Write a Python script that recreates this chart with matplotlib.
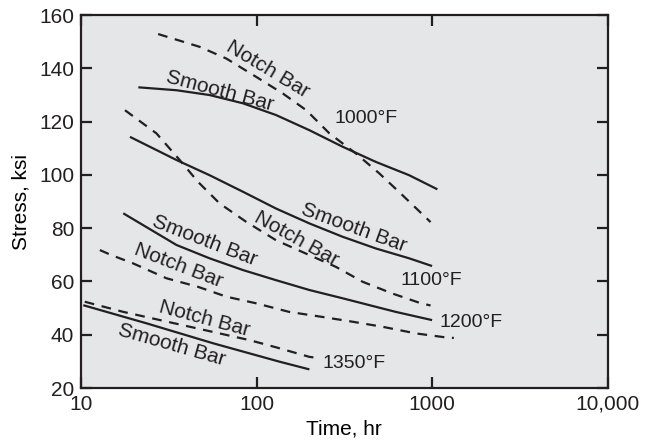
import numpy as np
import matplotlib
matplotlib.use('Agg')
import matplotlib.pyplot as plt

plt.rcParams['font.family'] = ['Liberation Sans', 'DejaVu Sans']
plt.rcParams['lines.scale_dashes'] = False

# Smooth bar (solid) and notch bar (dashed) rupture curves
smooth_1000_x = [21.2, 35, 54, 83.6, 129, 200, 309, 478, 740, 1072]
smooth_1000_y = [132.9, 131.8, 130, 126.9, 122.5, 116.8, 110.6, 104.9, 99.9, 94.6]
notch_1000_x = [27.5, 47.4, 67.3, 99.6, 141, 192, 260, 369, 500, 678, 980]
notch_1000_y = [152.9, 148.1, 143.7, 136.8, 130.6, 124.3, 115.6, 108, 100.6, 92.4, 82.3]

smooth_1100_x = [19, 35, 54, 83.6, 129, 200, 309, 478, 740, 1000]
smooth_1100_y = [114.3, 105.6, 99.9, 93.7, 87.4, 81.8, 76.8, 72.4, 68.7, 65.8]
notch_1100_x = [17.8, 26.9, 36.5, 46.4, 61.6, 87.3, 129, 200, 283, 402, 593, 865, 980]
notch_1100_y = [124.3, 115.6, 105.6, 97.4, 89.3, 82.4, 75.5, 69.9, 65.5, 59.9, 55.5, 51.8, 51]

smooth_1200_x = [17.4, 35, 54, 83.6, 129, 200, 309, 478, 620, 1000]
smooth_1200_y = [85.6, 73.7, 68.7, 64.3, 60.5, 56.8, 53.7, 50.5, 48.6, 45.5]
notch_1200_x = [12.8, 14.9, 19.8, 30.7, 46.4, 67.3, 99.6, 153, 237, 352, 522, 810, 1200, 1330]
notch_1200_y = [71.8, 69.9, 66.8, 61.2, 58, 54.3, 51.8, 48.6, 46.7, 44.9, 43, 40.5, 39, 38.8]

smooth_1350_x = [10.3, 23.6, 56.6, 135, 200]
smooth_1350_y = [51.1, 44.3, 36.8, 29.9, 27]
notch_1350_x = [10.5, 17.4, 25.7, 38, 61.6, 91, 129, 200, 218]
notch_1350_y = [52.4, 48.6, 46.1, 43.6, 40.5, 38, 35.3, 31.7, 31.4]

# curve labels: text, x, y, angle
curve_labels = [
    ("Notch Bar", 116, 139.8, -31),
    ("Smooth Bar", 62, 131.4, -15),
    ("Smooth Bar", 360, 80.2, -20),
    ("Notch Bar", 169, 76.0, -29),
    ("Smooth Bar", 50.7, 75.4, -21),
    ("Notch Bar", 35.8, 65.8, -21),
    ("Notch Bar", 50.7, 46.0, -15),
    ("Smooth Bar", 32.8, 36, -16),
]
temp_labels = [("1000°F", 277, 121.2), ("1100°F", 663, 60.2),
               ("1200°F", 1100, 44.6), ("1350°F", 238, 29.4)]

x_ticks = [10, 100, 1000, 10000]
x_ticklabels = ['10', '100', '1000', '10,000']
y_ticks = [20, 40, 60, 80, 100, 120, 140, 160]

ink = '#231f20'

fig = plt.figure(figsize=(6.55, 4.45), dpi=100)
ax = fig.add_axes([0.1237, 0.128, 0.804, 0.838])
ax.set_facecolor('#e5e6e8')

lw = 1.6
dash = (7, 5.5)
for xs, ys in [(smooth_1000_x, smooth_1000_y), (smooth_1100_x, smooth_1100_y),
               (smooth_1200_x, smooth_1200_y), (smooth_1350_x, smooth_1350_y)]:
    ax.plot(xs, ys, color=ink, lw=lw, solid_capstyle='butt', solid_joinstyle='round')
for xs, ys in [(notch_1000_x, notch_1000_y), (notch_1100_x, notch_1100_y),
               (notch_1200_x, notch_1200_y), (notch_1350_x, notch_1350_y)]:
    ax.plot(xs, ys, color=ink, lw=lw, dashes=dash, dash_capstyle='butt')

for txt, x, y, ang in curve_labels:
    ax.text(x, y, txt, fontsize=15, rotation=ang, rotation_mode='anchor',
            ha='center', va='center', color=ink)
for txt, x, y in temp_labels:
    ax.text(x, y, txt, fontsize=14, ha='left', va='center', color=ink)

ax.set_xscale('log')
ax.set_xlim(10, 10000)
ax.set_ylim(20, 160)
ax.set_xticks(x_ticks)
ax.set_xticklabels(x_ticklabels)
ax.set_yticks(y_ticks)
ax.minorticks_off()
ax.tick_params(direction='in', length=8, width=1.6, labelsize=15,
               top=True, right=True, colors=ink, pad=5)
for s in ax.spines.values():
    s.set_linewidth(1.6)
    s.set_color(ink)

ax.set_xlabel('Time, hr', fontsize=15, labelpad=4)
ax.set_ylabel('Stress, ksi', fontsize=15, labelpad=6)

plt.savefig('out.png', dpi=100)
